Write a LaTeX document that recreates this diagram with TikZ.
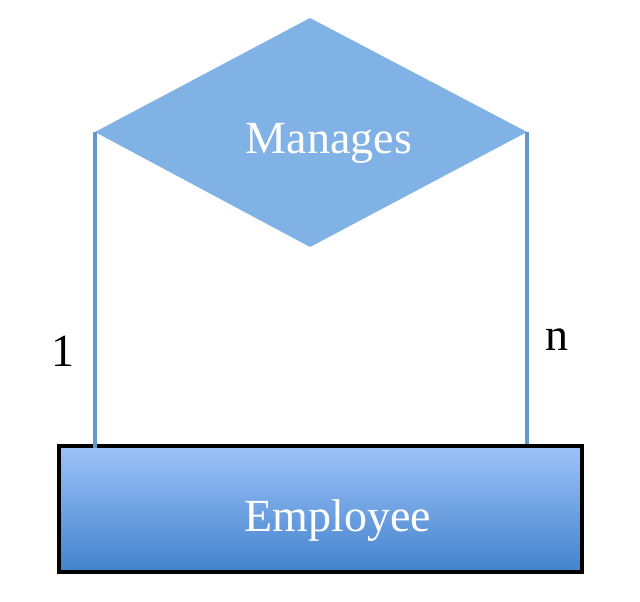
\documentclass[tikz,border=0pt]{standalone}
\usepackage{fontspec}
\setmainfont{Liberation Serif}
\usetikzlibrary{shapes.geometric}
\definecolor{dfill}{HTML}{80B2E6}
\definecolor{lnk}{HTML}{6797C7}
\definecolor{gtop}{HTML}{9DC3F8}
\definecolor{gbot}{HTML}{4282CC}
\tikzset{
  lbl/.style={font=\fontsize{46}{50}\selectfont},
  wlbl/.style={lbl, text=white},
  link/.style={draw=lnk, line width=4pt},
}
\begin{document}
\begin{tikzpicture}[x=1pt,y=-1pt]
\useasboundingbox (0,0) rectangle (640,602);
\fill[dfill] (310,18) coordinate (dt) -- (527,132) coordinate (dr) -- (310,247) coordinate (db) -- (95,132) coordinate (dl) -- cycle;
\node[wlbl] (manages) at (329,143) {Manages};
\shade[top color=gtop, bottom color=gbot] (59,446) rectangle (582,572);
\draw[line width=4pt] (59,446) rectangle (582,572);
\node[wlbl] (employee) at (338,521) {Employee};
\coordinate (el) at (95,448);
\coordinate (er) at (527,444);
\draw[link] (dl) -- (el);
\draw[link] (dr) -- (er);
\node[lbl] (one) at (63,351) {1};
\node[lbl] (n) at (557,340) {n};
\end{tikzpicture}
\end{document}
